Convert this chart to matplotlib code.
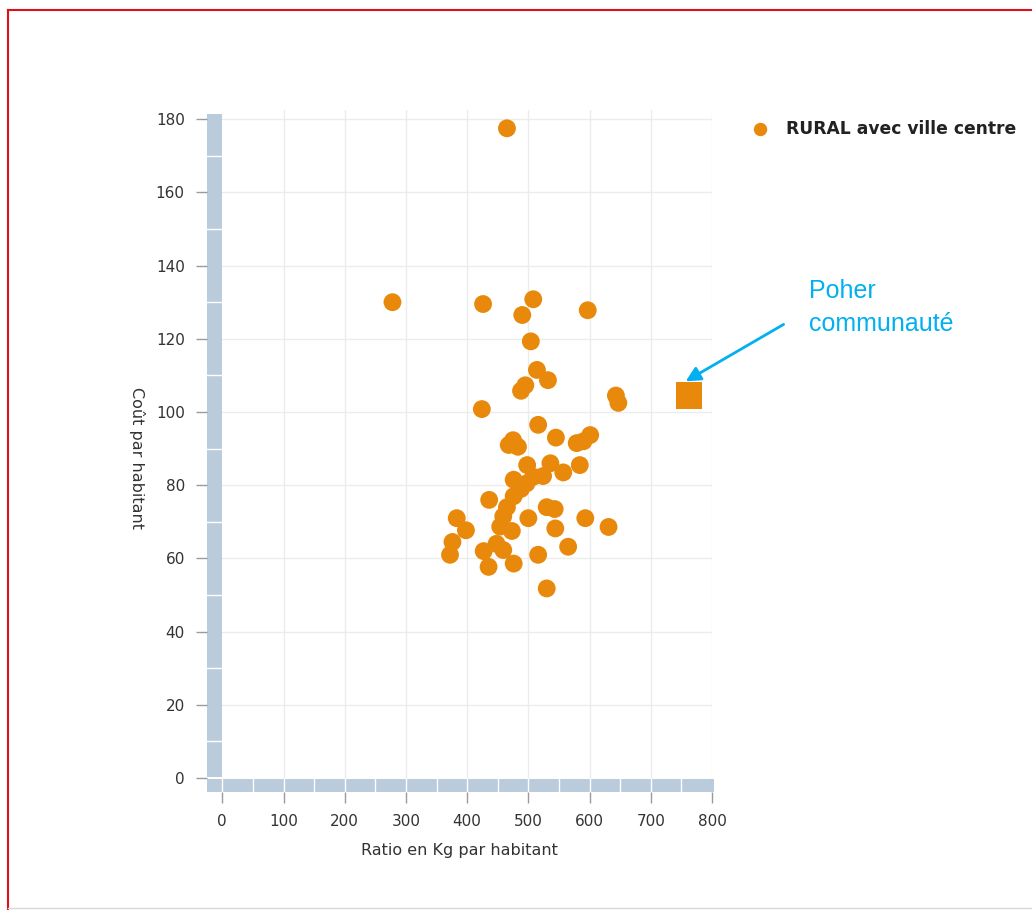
import matplotlib
matplotlib.use("Agg")
import matplotlib.pyplot as plt
from matplotlib.patches import Rectangle
from matplotlib.lines import Line2D

# ratio (kg / habitant) and cost per inhabitant
ratio_kg = [465, 278, 426, 508, 490, 597, 504, 514, 532, 488, 495, 643, 647, 424,
            516, 545, 601, 579, 590, 475, 483, 468, 498, 536, 584, 557, 476, 508,
            524, 497, 488, 436, 476, 465, 459, 530, 543, 500, 593, 631, 544, 383,
            398, 376, 372, 454, 473, 448, 459, 427, 435, 476, 516, 565, 530]
cout_hab = [177.5, 130, 129.5, 130.8, 126.5, 127.8, 119.3, 111.5, 108.7, 105.8,
            107.3, 104.5, 102.5, 100.8, 96.5, 93, 93.7, 91.5, 92, 92.3, 90.5, 91,
            85.5, 86, 85.5, 83.5, 81.5, 82.3, 82.5, 80.5, 79, 76, 77, 74, 71.5, 74,
            73.5, 71, 71, 68.6, 68.2, 71, 67.7, 64.5, 61, 68.7, 67.5, 64, 62.3, 62,
            57.7, 58.6, 61, 63.2, 51.8]
poher_x = [762]
poher_y = [104.5]

series_name = "RURAL avec ville centre"
x_ticks = [0, 100, 200, 300, 400, 500, 600, 700, 800]
y_ticks = [0, 20, 40, 60, 80, 100, 120, 140, 160, 180]

orange = "#E8890C"
band = "#BACBDC"
grey_txt = "#333333"

W, H = 1032, 910
fig = plt.figure(figsize=(W / 100, H / 100), dpi=100)
ax = fig.add_axes([207 / W, 1 - 792 / H, (712 - 207) / W, (792 - 110) / H])
ax.set_xlim(-25, 800)
ax.set_ylim(-3.8, 182.5)

for s in ax.spines.values():
    s.set_visible(False)

# grid
for xv in x_ticks[1:]:
    ax.plot([xv, xv], [0, 182.5], color="#ECECEC", lw=1, zorder=0.5)
for yv in y_ticks[1:]:
    ax.plot([0, 800], [yv, yv], color="#ECECEC", lw=1, zorder=0.5)

# axis bands
ax.add_patch(Rectangle((-24.5, 0.3), 24.2, 181.2, color=band, lw=0, zorder=1))
ax.add_patch(Rectangle((-25, -3.8), 829, 3.6, color=band, lw=0, zorder=1, clip_on=False))
for yv in range(10, 180, 20):
    ax.plot([-24.5, -0.3], [yv, yv], color="white", lw=1, zorder=1.2)
for xv in range(0, 800, 50):
    ax.plot([xv, xv], [-3.8, -0.2], color="white", lw=1, zorder=1.2)

ax.scatter(ratio_kg, cout_hab, s=165, color=orange, edgecolors="none",
           zorder=3, label=series_name)
ax.scatter(poher_x, poher_y, s=360, marker="s", color=orange, edgecolors="none",
           zorder=3)

ax.set_xticks(x_ticks)
ax.set_yticks(y_ticks)
ax.tick_params(axis="both", length=8, color="#9A9A9A", width=1,
               labelsize=11, labelcolor=grey_txt, pad=8)
ax.set_xlabel("Ratio en Kg par habitant", fontsize=11.5, color=grey_txt, labelpad=10)
ax.set_ylabel("Coût par habitant", fontsize=11.5, color=grey_txt, rotation=270,
              va="bottom")
ax.yaxis.set_label_coords(-0.155, 0.49)

fig.legend(loc="center left", bbox_to_anchor=(752 / W, 1 - 129 / H), frameon=False,
           prop={"weight": "bold", "size": 12.3}, borderpad=0, borderaxespad=0,
           handlelength=1.0, handletextpad=1.0, markerscale=0.75, labelcolor="#222222")

# annotation
fig.text(809 / W, 1 - 279 / H, "Poher\ncommunauté", va="top", ha="left",
         fontsize=18, color="#00B0F0", family="Liberation Sans", linespacing=1.45)
ax.annotate("", xy=(753, 108), xycoords="data",
            xytext=(786, H - 323), textcoords="figure pixels",
            arrowprops=dict(arrowstyle="-|>", color="#00B0F0", lw=2, mutation_scale=22),
            zorder=5)

# frame of the screenshot
fig.add_artist(Line2D([8 / W, 8 / W], [0, 1 - 10 / H], color="#E0101A", lw=1.5))
fig.add_artist(Line2D([8 / W, 1], [1 - 10 / H, 1 - 10 / H], color="#E0101A", lw=1.5))
fig.add_artist(Line2D([8 / W, 1], [2 / H, 2 / H], color="#D8D8D8", lw=1))

fig.savefig("out.png", dpi=100)
